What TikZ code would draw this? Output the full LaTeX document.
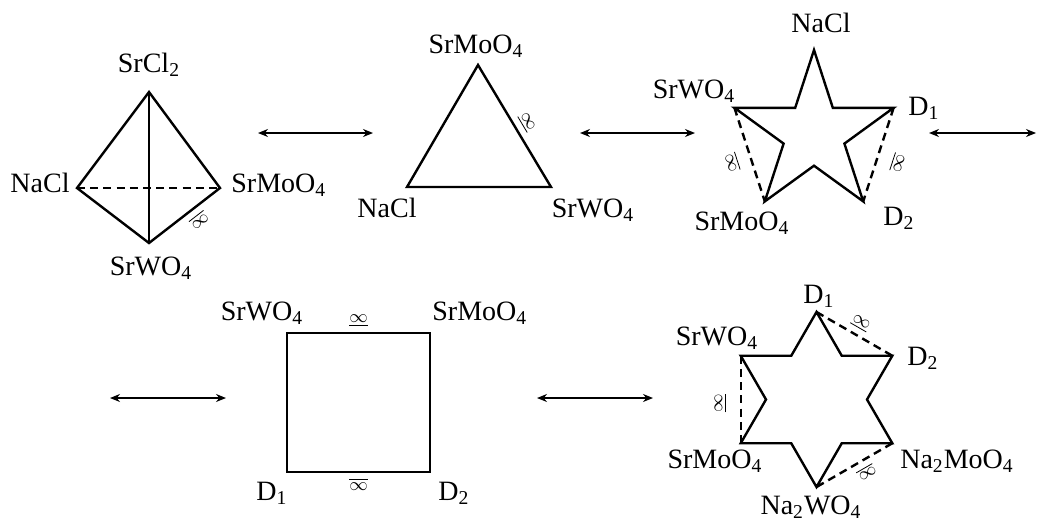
\documentclass[tikz,border=0pt]{standalone}
\usepackage{fontspec}
\setmainfont{Liberation Serif}
\usetikzlibrary{arrows.meta, positioning}

\newcommand{\idx}[1]{\textsubscript{#1}}

\begin{document}
\begin{tikzpicture}[x=0.5pt, y=-0.5pt,
  edge/.style={line width=1.2pt, line join=miter},
  hidden/.style={line width=1.2pt, dash pattern=on 4pt off 2.6pt},
  link/.style={line width=0.7pt, {Stealth[length=5pt,width=4pt]}-{Stealth[length=5pt,width=4pt]}},
  lab/.style={inner sep=0pt, font=\fontsize{14}{16}\selectfont},
  infa/.style={sloped, above=#1, inner sep=0pt, font=\fontsize{9}{9}\selectfont},
  infb/.style={sloped, below=#1, inner sep=0pt, font=\fontsize{9}{9}\selectfont},
  infa/.default=3pt, infb/.default=3pt]

\useasboundingbox (0,0) rectangle (1037,520);

% ========== tetrahedron ==========
\coordinate (tCl) at (149,92);
\coordinate (tNa) at (77,188);
\coordinate (tMo) at (220,188);
\coordinate (tW)  at (149,243);
\draw[edge] (tNa) -- (tCl) -- (tMo) -- (tW) -- cycle;
\draw[edge] (tCl) -- (tW);
\draw[hidden] (tNa) -- (tMo);
\path (tW) -- node[infb, pos=0.6] (m1) {$\overline{\infty}$} (tMo);

\node[lab, anchor=base]      (nCl) at (149,72)  {SrCl\idx{2}};
\node[lab, anchor=base east] (nNa) at (70,192)  {NaCl};
\node[lab, anchor=base west] (nMo) at (231,192) {SrMoO\idx{4}};
\node[lab, anchor=base]      (nW)  at (151,275) {SrWO\idx{4}};

% ========== triangle ==========
\coordinate (gMo) at (478,65);
\coordinate (gNa) at (407,187);
\coordinate (gW)  at (551,187);
\draw[edge] (gNa) -- (gMo) -- (gW) -- cycle;
\path (gMo) -- node[infa, pos=0.52] (m2) {$\underline{\infty}$} (gW);

\node[lab, anchor=base] (gnMo) at (476,53)  {SrMoO\idx{4}};
\node[lab, anchor=base] (gnNa) at (387,217) {NaCl};
\node[lab, anchor=base] (gnW)  at (593,217) {SrWO\idx{4}};

% ========== pentagram ==========
\coordinate (pNa) at (814,50);
\coordinate (pD1) at (893.6,107.8);
\coordinate (pD2) at (863.2,201.4);
\coordinate (pMo) at (764.8,201.4);
\coordinate (pW)  at (734.4,107.8);
\draw[edge] (pNa) -- (832.8,107.8) -- (pD1) -- (844.4,143.6) -- (pD2)
  -- (814,165.7) -- (pMo) -- (783.6,143.6) -- (pW) -- (795.2,107.8) -- cycle;
\draw[hidden] (pW) -- (pMo);
\draw[hidden] (pD1) -- (pD2);
\path (pW) -- node[infb=6pt, pos=0.52] (m3) {$\overline{\infty}$} (pMo);
\path (pD2) -- node[infb=7pt, pos=0.48] (m4) {$\overline{\infty}$} (pD1);

\node[lab, anchor=base]      (pnNa) at (821,32)  {NaCl};
\node[lab, anchor=base]      (pnW)  at (694,98)  {SrWO\idx{4}};
\node[lab, anchor=base west] (pnD1) at (908,115) {D\idx{1}};
\node[lab, anchor=base west] (pnD2) at (883,225) {D\idx{2}};
\node[lab, anchor=base]      (pnMo) at (742,230) {SrMoO\idx{4}};

% ========== square ==========
\coordinate (qW)  at (287,333);
\coordinate (qMo) at (430,333);
\coordinate (qD2) at (430,472);
\coordinate (qD1) at (287,472);
\draw[edge] (qW) -- (qMo) -- (qD2) -- (qD1) -- cycle;
\path (qW) -- node[infa] (m5) {$\underline{\infty}$} (qMo);
\path (qD1) -- node[infb] (m6) {$\overline{\infty}$} (qD2);

\node[lab, anchor=base]      (qnW)  at (262,320) {SrWO\idx{4}};
\node[lab, anchor=base west] (qnMo) at (432,320) {SrMoO\idx{4}};
\node[lab, anchor=base west] (qnD1) at (256,500) {D\idx{1}};
\node[lab, anchor=base west] (qnD2) at (438,500) {D\idx{2}};

% ========== hexagram ==========
\coordinate (hD1) at (816.5,312);
\coordinate (hD2) at (892.3,355.75);
\coordinate (hNM) at (892.3,443.25);
\coordinate (hNW) at (816.5,487);
\coordinate (hMo) at (740.7,443.25);
\coordinate (hW)  at (740.7,355.75);
\draw[edge] (hD1) -- (841.75,355.75) -- (hD2) -- (867,399.5) -- (hNM)
  -- (841.75,443.25) -- (hNW) -- (791.25,443.25) -- (hMo) -- (766,399.5)
  -- (hW) -- (791.25,355.75) -- cycle;
\draw[hidden] (hD1) -- (hD2);
\draw[hidden] (hW) -- (hMo);
\draw[hidden] (hNM) -- (hNW);
\path (hD1) -- node[infa] (m7) {$\underline{\infty}$} (hD2);
\path (hMo) -- node[infa=7pt, pos=0.46] (m8) {$\underline{\infty}$} (hW);
\path (hNW) -- node[infb, pos=0.58] (m9) {$\overline{\infty}$} (hNM);

\node[lab, anchor=base west] (hnD1) at (803,303) {D\idx{1}};
\node[lab, anchor=base]      (hnW)  at (717,345) {SrWO\idx{4}};
\node[lab, anchor=base west] (hnD2) at (907,365) {D\idx{2}};
\node[lab, anchor=base]      (hnMo) at (715,468) {SrMoO\idx{4}};
\node[lab, anchor=base]      (hnNM) at (957,468) {Na\idx{2}MoO\idx{4}};
\node[lab, anchor=base]      (hnNW) at (811,514) {Na\idx{2}WO\idx{4}};

% ========== transitions ==========
\coordinate (a1l) at (258,133);  \coordinate (a1r) at (373,133);
\coordinate (a2l) at (580,133);  \coordinate (a2r) at (695,133);
\coordinate (a3l) at (929,133);  \coordinate (a3r) at (1036,133);
\coordinate (a4l) at (110,398);  \coordinate (a4r) at (226,398);
\coordinate (a5l) at (537,398);  \coordinate (a5r) at (653,398);
\draw[link] (a1l) -- (a1r);
\draw[link] (a2l) -- (a2r);
\draw[link] (a3l) -- (a3r);
\draw[link] (a4l) -- (a4r);
\draw[link] (a5l) -- (a5r);

\end{tikzpicture}
\end{document}
